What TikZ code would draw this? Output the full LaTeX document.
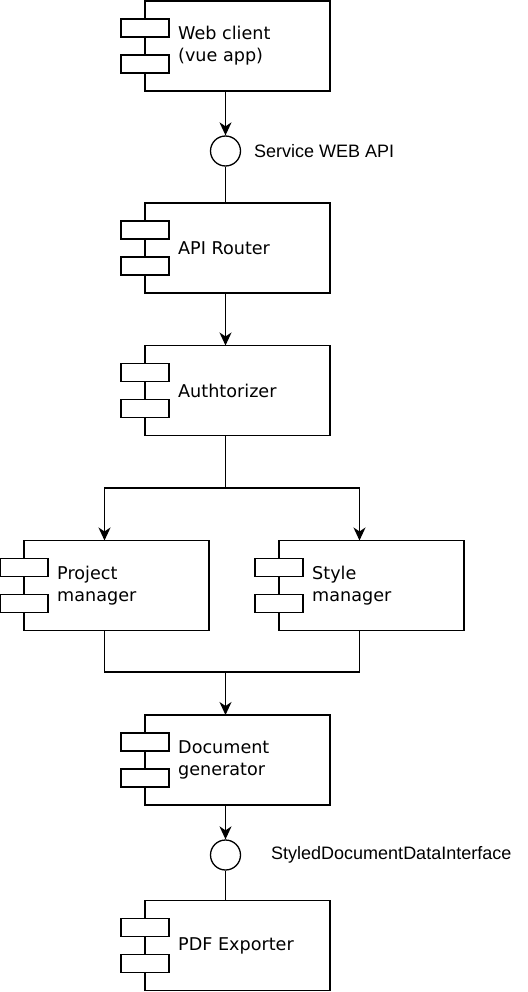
\documentclass[tikz,border=0pt]{standalone}
\usepackage{fontspec}
\setmainfont{DejaVu Sans}
\newfontfamily\labfont{Liberation Sans}
\usetikzlibrary{arrows.meta,calc}
\tikzset{
  bounds/.style={draw=none,minimum width=209,minimum height=90,inner sep=0pt,outer sep=0pt},
  cbox/.style={draw=black,line width=1.3pt,fill=white},
  ctab/.style={draw=black,line width=1.3pt,fill=white},
  ctext/.style={anchor=west,align=left,inner sep=0pt,font=\fontsize{17.6}{22}\selectfont},
  iface/.style={circle,draw=black,line width=1.3pt,minimum size=30pt,inner sep=0pt,fill=white},
  ilabel/.style={anchor=west,inner sep=0pt,font=\labfont\fontsize{18}{22}\selectfont},
  conn/.style={draw=black,line width=1.3pt},
  arr/.style={conn,-{Stealth[length=13pt,width=12pt,inset=4pt]}}
}
\newcommand\Comp[4]{%
  \node[bounds] (#1) at ({#2+104.5},{#3+45}) {};
  \draw[cbox] ($(#1.north west)+(24,0)$) rectangle (#1.south east);
  \draw[ctab] ($(#1.north west)+(0,18)$) rectangle ++(48,18);
  \draw[ctab] ($(#1.north west)+(0,54)$) rectangle ++(48,18);
  \node[ctext] (#1t) at ($(#1.west)+(57,0)$) {#4};
}
\begin{document}
\begin{tikzpicture}[x=1pt,y=-1pt]
\useasboundingbox (0,0) rectangle (527,992);
\Comp{web}{121}{1}{Web client\\(vue app)}
\Comp{api}{121}{203}{API Router}
\Comp{auth}{121}{345.5}{Authtorizer}
\Comp{proj}{0}{540.5}{Project\\manager}
\Comp{style}{255}{540.5}{Style\\manager}
\Comp{doc}{121}{715}{Document\\generator}
\Comp{pdf}{121}{900.5}{PDF Exporter}
\node[iface] (i1) at (225.5,151) {};
\node[iface] (i2) at (225.5,855) {};
\node[ilabel] (l1) at (254,151) {Service WEB API};
\node[ilabel] (l2) at (271,855) {StyledDocumentDataInterface};
\coordinate (j1) at (225.5,488);
\coordinate (j2) at (225.5,672);
\draw[arr] (web.south) -- (i1.north);
\draw[conn] (i1.south) -- (api.north);
\draw[arr] (api.south) -- (auth.north);
\draw[arr] (auth.south) -- (j1) -| (proj.north);
\draw[arr] (j1) -| (style.north);
\draw[conn] (proj.south) |- (j2);
\draw[conn] (style.south) |- (j2);
\draw[arr] (j2) -- (doc.north);
\draw[arr] (doc.south) -- (i2.north);
\draw[conn] (i2.south) -- (pdf.north);
\end{tikzpicture}
\end{document}
